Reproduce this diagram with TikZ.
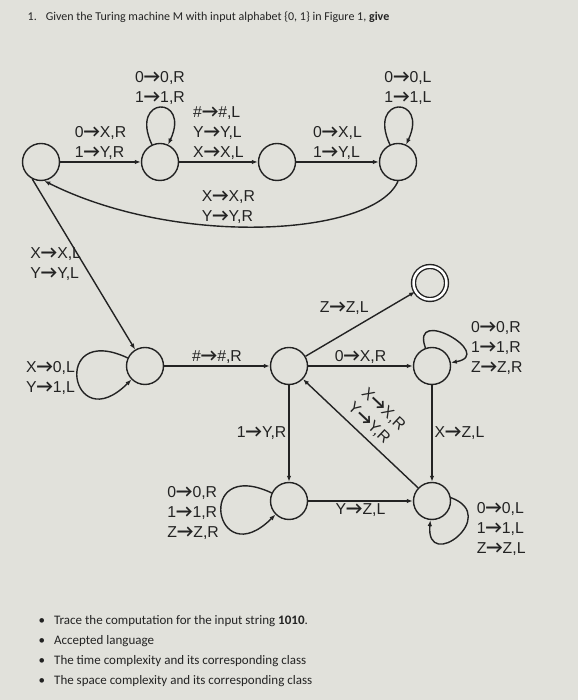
\documentclass[tikz,border=0pt]{standalone}
\usepackage{fontspec}
\setmainfont{Carlito}
\newfontfamily\labfont{Liberation Sans}
\newfontfamily\arrowfont{Carlito}
\newcommand\goes{{\arrowfont\bfseries\fontsize{18}{20}\selectfont →}}
\usetikzlibrary{arrows.meta}
\definecolor{paper}{RGB}{225,225,219}
\definecolor{ink}{RGB}{35,35,35}

\begin{document}
\begin{tikzpicture}[x=1pt, y=1pt, color=ink, line width=1.4pt,
	>={Latex[length=6pt,width=4.5pt]},
	state/.style={shape=circle, draw=ink, minimum size=37pt, inner sep=0pt},
	accept/.style={state, double, double distance=2.5pt, minimum size=33pt},
	lab/.style={font=\labfont\fontsize{15.8}{20}\selectfont, align=left, inner sep=2pt},
	txt/.style={anchor=base west, inner sep=0pt, font=\fontsize{12}{14}\selectfont}]
	\fill[paper] (0,0) rectangle (578,700);
	\useasboundingbox (0,0) rectangle (578,700);
	% question text
	\node[txt] (title) at (27,679) {1.\hspace{9pt}Given the Turing machine M with input alphabet \{0, 1\} in Figure 1, \textbf{give}};
	% states
	\node[state] (q0) at (41,538) {};
	\node[state] (q1) at (160,538) {};
	\node[state] (q2) at (277,538) {};
	\node[state] (q3) at (398,538) {};
	\node[state] (q4) at (145,334) {};
	\node[state] (q5) at (289,334) {};
	\node[accept] (q6) at (430,417) {};
	\node[state] (q7) at (432,334) {};
	\node[state] (q8) at (289,199) {};
	\node[state] (q9) at (432,199) {};
	% top row
	\draw [->] (q0) to node[lab, above] {0\goes X,R\\1\goes Y,R} (q1);
	\draw [->] (q1) to[out=115, in=65, looseness=8.6] node[lab, above] {0\goes 0,R\\1\goes 1,R} (q1);
	\draw [->] (q1) to node[lab, above] {\#\goes\#,L\\Y\goes Y,L\\X\goes X,L} (q2);
	\draw [->] (q2) to node[lab, above] {0\goes X,L\\1\goes Y,L} (q3);
	\draw [->] (q3) to[out=115, in=65, looseness=8.6] node[lab, above, xshift=10pt] {0\goes 0,L\\1\goes 1,L} (q3);
	\draw [->] (q3.south) .. controls (374,464) and (178,452) .. node[lab, above, pos=0.58] {X\goes X,R\\Y\goes Y,R} (q0.-80);
	% middle row
	\draw [->] (q0.-117) to node[lab, left] {X\goes X,L\\Y\goes Y,L} (q4);
	\draw [->] (q4) to[out=155, in=225, looseness=10] node[lab, left] {X\goes 0,L\\Y\goes 1,L} (q4);
	\draw [->] (q4) to node[lab, above] {\#\goes\#,R} (q5);
	\draw [->] (q5) to node[lab, above left, pos=0.6] {Z\goes Z,L} (q6);
	\draw [->] (q5) to node[lab, above] {0\goes X,R} (q7);
	\draw [->] (q7) to[out=110, in=10, looseness=4] node[lab, right=6pt, pos=0.7] {0\goes 0,R\\1\goes 1,R\\Z\goes Z,R} (q7);
	% bottom row
	\draw [->] (q5) to node[lab, left] {1\goes Y,R} (q8);
	\draw [->] (q7) to node[lab, right] {X\goes Z,L} (q9);
	\draw [<-] (q5) to node[lab, above=4pt, sloped] {X\goes X,R\\Y\goes Y,R} (q9);
	\draw [->] (q8) to node[lab, below] {Y\goes Z,L} (q9);
	\draw [->] (q8) to[out=155, in=225, looseness=10] node[lab, left] {0\goes 0,R\\1\goes 1,R\\Z\goes Z,R} (q8);
	\draw [->] (q9.10) to[out=-20, in=-95, looseness=4.5] node[lab, right=10pt, pos=0.4] {0\goes 0,L\\1\goes 1,L\\Z\goes Z,L} (q9.-95);
	% tasks
	\node[txt, font=\fontsize{13}{15}\selectfont] (task1) at (38,75) {\textbullet\hspace{9pt}Trace the computation for the input string \textbf{1010}.};
	\node[txt, font=\fontsize{13}{15}\selectfont] (task2) at (38,55) {\textbullet\hspace{9pt}Accepted language};
	\node[txt, font=\fontsize{13}{15}\selectfont] (task3) at (38,35) {\textbullet\hspace{9pt}The time complexity and its corresponding class};
	\node[txt, font=\fontsize{13}{15}\selectfont] (task4) at (38,15) {\textbullet\hspace{9pt}The space complexity and its corresponding class};
\end{tikzpicture}
\end{document}
